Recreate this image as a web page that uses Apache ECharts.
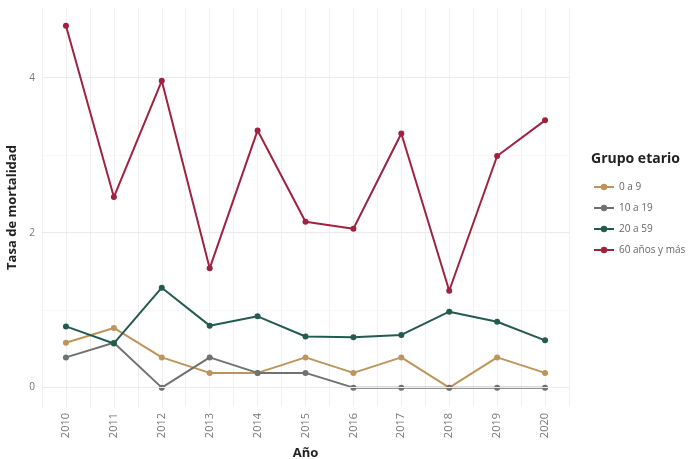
<!DOCTYPE html>
<html><head><meta charset="utf-8">
<script src="https://cdn.jsdelivr.net/npm/echarts@6/dist/echarts.min.js"></script>
<style>html,body{margin:0;padding:0;background:#fff}#c{width:697px;height:459px}</style>
</head><body><div id="c"></div>
<script>
const years = [2010,2011,2012,2013,2014,2015,2016,2017,2018,2019,2020];
const seriesNames = ['0 a 9','10 a 19','20 a 59','60 años y más'];
const v0a9 = [0.58,0.77,0.39,0.19,0.19,0.39,0.19,0.39,0.00,0.39,0.19];
const v10a19 = [0.39,0.58,0.00,0.39,0.19,0.19,0.00,0.00,0.00,0.00,0.00];
const v20a59 = [0.79,0.57,1.29,0.80,0.92,0.66,0.65,0.68,0.98,0.85,0.61];
const v60 = [4.67,2.46,3.96,1.54,3.32,2.14,2.05,3.28,1.25,2.99,3.45];
const yTickLabels = [0,2,4];
const yGridMajor = [0,2,4];
const yGridMinor = [1,3];
const colors = ['#BC955C','#6F7271','#235B4E','#9F2241'];
const allVals = [v0a9,v10a19,v20a59,v60];

const font = "'Open Sans', Lato, sans-serif";
const series = allVals.map((vals,i)=>({
  name: seriesNames[i], type:'line', data: years.map((y,j)=>[y,vals[j]]),
  symbol:'circle', symbolSize:6, color: colors[i], z: 3+i,
  lineStyle:{width:2}, itemStyle:{color:colors[i]}
}));
series[0].markLine = {
  silent:true, symbol:'none', label:{show:false}, animation:false,
  data: yGridMajor.map(v=>({yAxis:v, lineStyle:{color:'#ebebeb',width:1,type:'solid'}}))
    .concat(yGridMinor.map(v=>({yAxis:v, lineStyle:{color:'#f3f3f3',width:0.6,type:'solid'}})))
};

const chart = echarts.init(document.getElementById('c'));
chart.setOption({
  animation:false,
  title:{text:'Grupo etario', left:586, top:147, textStyle:{fontFamily:font,fontWeight:'bold',fontSize:14,color:'#222'}},
  legend:{orient:'vertical', left:588, top:177, itemWidth:20, itemHeight:8, itemGap:11,
    textStyle:{fontFamily:font,fontSize:10,color:'#666'}, data: seriesNames},
  grid:{left:42, right:128, top:8, bottom:52, outerBoundsMode:'none', containLabel:false},
  xAxis:{type:'value', min:2009.5, max:2020.5, interval:0.5,
    name:'Año', nameLocation:'middle', nameGap:40,
    nameTextStyle:{fontFamily:font,fontWeight:'bold',fontSize:13,color:'#222'},
    axisLine:{show:false}, axisTick:{show:false},
    axisLabel:{rotate:90, fontFamily:font, fontSize:11, color:'#777', margin:6,
      formatter:v=> Number.isInteger(v)? String(v):''},
    splitLine:{show:true, lineStyle:{color:'#efefef',width:1}}},
  yAxis:{type:'value', min:-0.25, max:4.9, interval:0.25,
    name:'Tasa de mortalidad', nameLocation:'middle', nameGap:15,
    nameTextStyle:{fontFamily:font,fontWeight:'bold',fontSize:13,color:'#222'},
    axisLine:{show:false}, axisTick:{show:false},
    axisLabel:{fontFamily:font, fontSize:10, color:'#777', margin:7,
      formatter:v=> yTickLabels.includes(Math.round(v*100)/100) ? String(Math.round(v)) : ''},
    splitLine:{show:false}},
  series: series
});
</script></body></html>
